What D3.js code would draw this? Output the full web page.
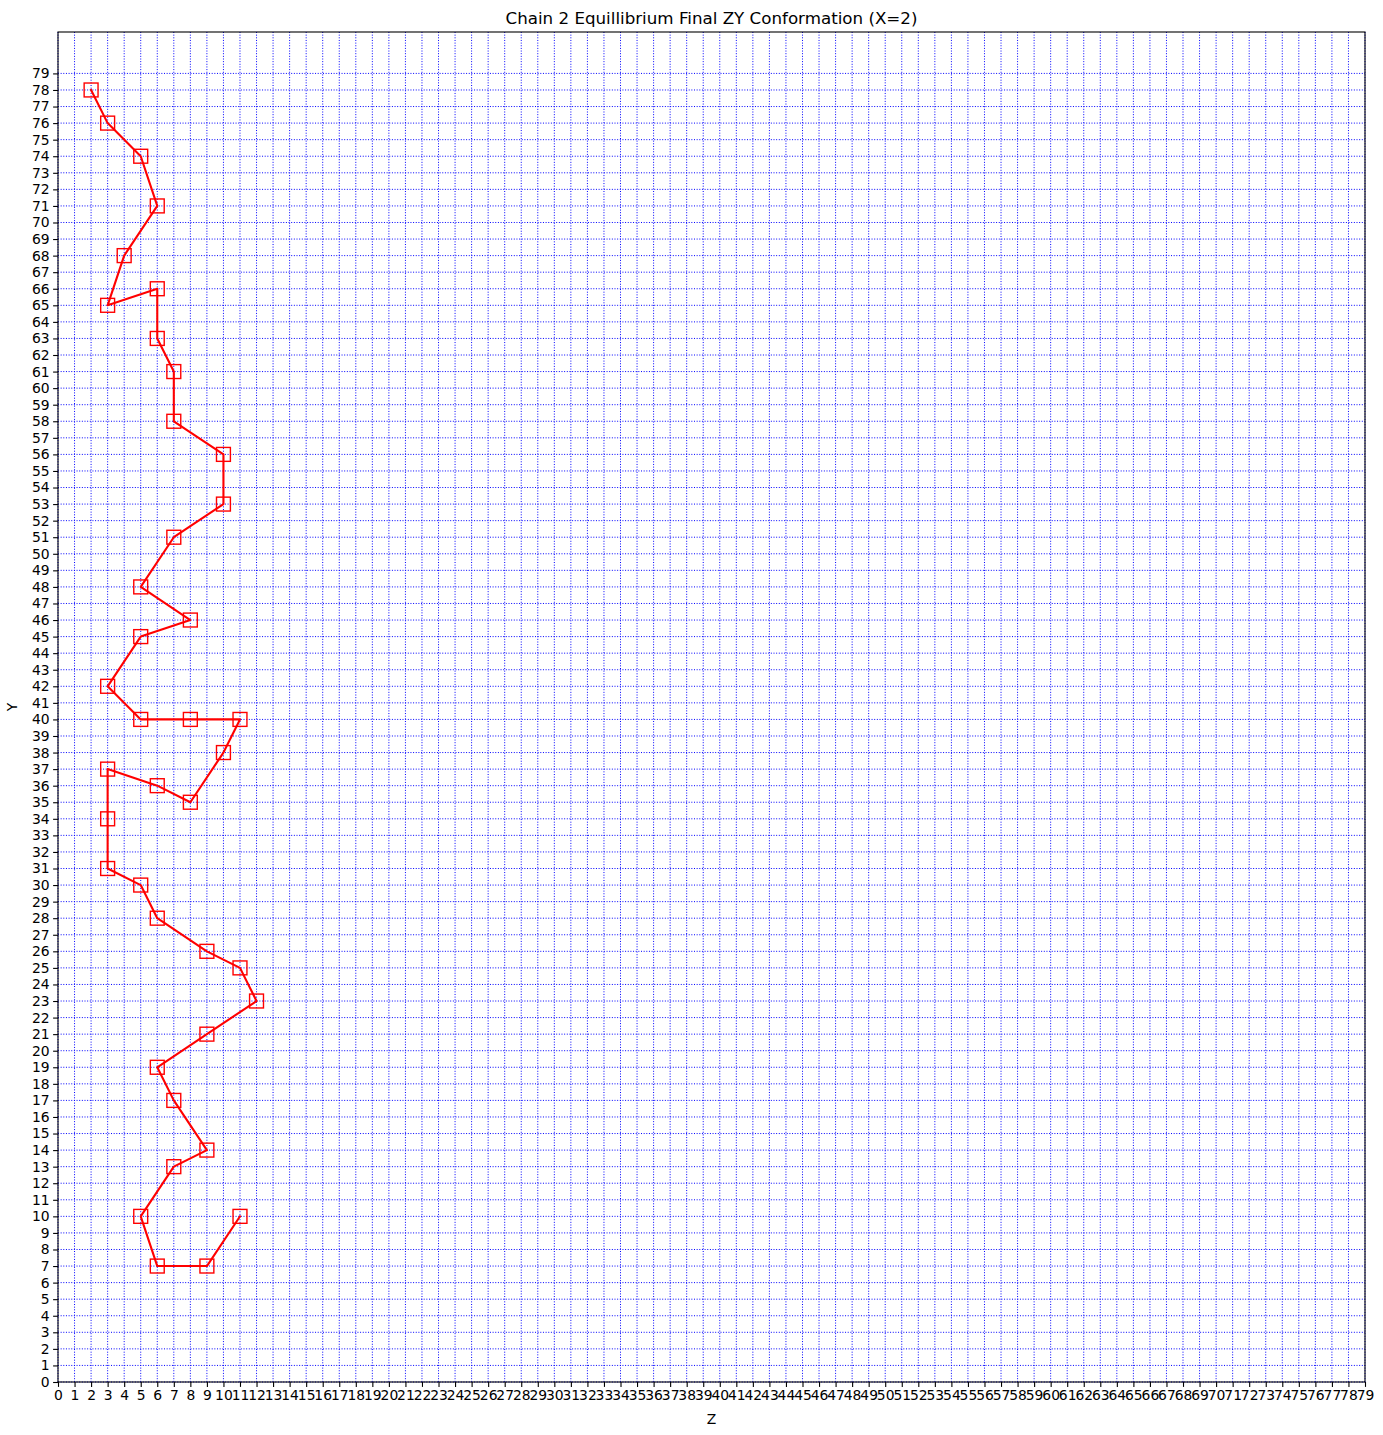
<!DOCTYPE html>
<html>
<head>
<meta charset="utf-8">
<script src="https://cdn.jsdelivr.net/npm/d3@7"></script>
<style>
  html, body { margin: 0; padding: 0; background: #fff; }
  svg { display: block; font-family: "DejaVu Sans", sans-serif; }
</style>
</head>
<body>
<script>
// ---- data ----
const zValues = [2, 3, 5, 6, 4, 3, 6, 6, 7, 7, 10, 10, 7, 5, 8, 5, 3, 5, 8, 11, 10, 8, 6, 3, 3, 3, 5, 6, 9, 11, 12, 9, 6, 7, 9, 7, 5, 6, 9, 11];
const yValues = [78, 76, 74, 71, 68, 65, 66, 63, 61, 58, 56, 53, 51, 48, 46, 45, 42, 40, 40, 40, 38, 35, 36, 37, 34, 31, 30, 28, 26, 25, 23, 21, 19, 17, 14, 13, 10, 7, 7, 10];
const xTicks = d3.range(0, 80);
const yTicks = d3.range(0, 80);
const titleText = "Chain 2 Equillibrium Final ZY Conformation (X=2)";
const xLabel = "Z";
const yLabel = "Y";

(function () {
const W = 1383, H = 1435;
const pLeft = 58, pRight = 1365, pTop = 32, pBottom = 1382;

const svg = d3.select("body").append("svg").attr("width", W).attr("height", H);

const x = d3.scaleLinear().domain([0, 79]).range([pLeft, pRight]);
const y = d3.scaleLinear().domain([0, 81.5]).range([pBottom, pTop]);

// grid
const grid = svg.append("g");
grid.selectAll("line.gx").data(xTicks).join("line").attr("class", "gx")
  .attr("x1", d => x(d)).attr("x2", d => x(d))
  .attr("y1", pTop).attr("y2", pBottom)
  .attr("stroke", "#0000ff").attr("stroke-width", 1)
  .attr("stroke-dasharray", "1,1.65");
grid.selectAll("line.gy").data(yTicks).join("line").attr("class", "gy")
  .attr("x1", pLeft).attr("x2", pRight)
  .attr("y1", d => y(d)).attr("y2", d => y(d))
  .attr("stroke", "#0000ff").attr("stroke-width", 1)
  .attr("stroke-dasharray", "1,1.65");

// axes
const xAxis = d3.axisBottom(x).tickValues(xTicks).tickFormat(d3.format("d")).tickSizeInner(4.9).tickSizeOuter(0).tickPadding(3.5);
const yAxis = d3.axisLeft(y).tickValues(yTicks).tickFormat(d3.format("d")).tickSizeInner(4.9).tickSizeOuter(0).tickPadding(3.5);

const gx = svg.append("g").attr("transform", `translate(0,${pBottom})`).call(xAxis);
const gy = svg.append("g").attr("transform", `translate(${pLeft},0)`).call(yAxis);
[gx, gy].forEach(g => {
  g.select(".domain").remove();
  g.selectAll(".tick line").attr("stroke", "#000").attr("stroke-width", 1.1);
  g.selectAll(".tick text").attr("fill", "#000").style("font-size", "13.9px").style("font-family", "DejaVu Sans, sans-serif");
});

// frame
svg.append("rect").attr("x", pLeft).attr("y", pTop).attr("width", pRight - pLeft).attr("height", pBottom - pTop)
  .attr("fill", "none").attr("stroke", "#000").attr("stroke-width", 1.1);

// line
const pts = zValues.map((z, i) => [z, yValues[i]]);
svg.append("path").datum(pts)
  .attr("d", d3.line().x(d => x(d[0])).y(d => y(d[1])))
  .attr("fill", "none").attr("stroke", "#ff0000").attr("stroke-width", 2.1)
  .attr("stroke-linejoin", "round").attr("stroke-linecap", "square");

// markers
const ms = 13.9;
svg.append("g").selectAll("rect").data(pts).join("rect")
  .attr("x", d => x(d[0]) - ms / 2).attr("y", d => y(d[1]) - ms / 2)
  .attr("width", ms).attr("height", ms)
  .attr("fill", "none").attr("stroke", "#ff0000").attr("stroke-width", 1.4);

// title & labels
svg.append("text").attr("x", (pLeft + pRight) / 2).attr("y", 24)
  .attr("text-anchor", "middle").style("font-size", "16.7px").text(titleText);
svg.append("text").attr("x", (pLeft + pRight) / 2).attr("y", 1424)
  .attr("text-anchor", "middle").style("font-size", "13.9px").text(xLabel);
svg.append("text").attr("transform", `translate(17,${(pTop + pBottom) / 2}) rotate(-90)`)
  .attr("text-anchor", "middle").style("font-size", "13.9px").text(yLabel);
})();
</script>
</body>
</html>
